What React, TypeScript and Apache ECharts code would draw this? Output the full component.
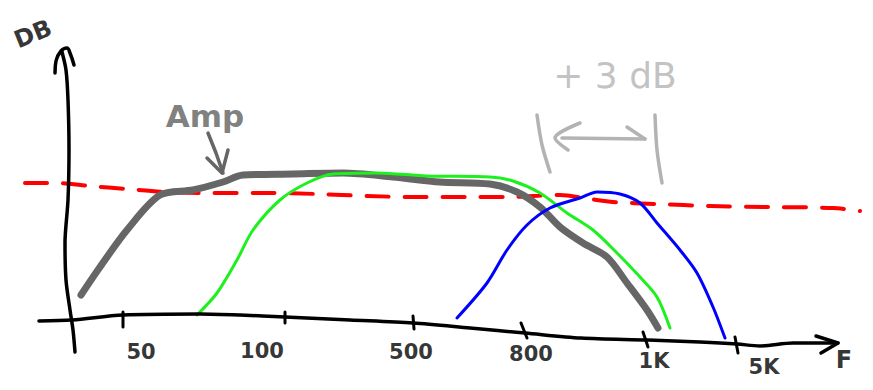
import React, { useEffect, useRef } from "react";
import * as echarts from "echarts";

const W = 873;
const H = 390;

// Hand-drawn axes (sketch coordinates: x = frequency position, y = level position, inverted)
const xAxisCurve = [[39, 321], [72, 320], [123, 315], [200, 314], [240, 315], [285, 317], [350, 320], [413, 323], [470, 328], [525, 333], [581, 338], [648, 340], [700, 342], [737, 344], [760, 346], [793, 343], [838, 343]];
const xAxisArrow = [[816, 336], [838, 343], [821, 353]];
const yAxisCurve = [[62, 52], [66, 70], [68, 100], [69, 150], [68, 200], [65, 243], [66, 280], [70, 310], [73, 330], [75, 352]];
const yAxisArrow = [[55, 73], [56, 61], [61, 51], [67, 48], [70, 53], [74, 65]];

// Frequency ticks
const tickLabels = ["50", "100", "500", "800", "1K", "5K"];
const tickXTop = [123, 285, 413, 521, 643, 735];
const tickXBottom = [123, 285, 414, 527, 648, 738];
const tickYTop = [312, 312, 316, 323, 332, 337];
const tickYBottom = [327, 323, 329, 338, 347, 353];
const labelX = [141, 262, 411, 531, 654, 764];
const labelY = [352, 351, 352, 354, 361, 367];

// Curves
const referenceLevel = [[25, 183], [55, 183], [90, 186], [127, 189], [165, 192], [200, 193], [267, 193], [317, 194], [367, 196], [413, 197], [467, 197], [507, 197], [560, 195], [590, 199], [613, 202], [657, 204], [710, 206], [770, 207], [833, 208], [860, 211]];
const ampCurve = [[81, 295], [100, 267], [127, 230], [160, 195], [193, 190], [223, 182], [243, 175], [293, 174], [343, 173], [393, 177], [440, 182], [490, 184], [517, 192], [540, 207], [560, 227], [583, 243], [607, 257], [627, 283], [647, 310], [658, 328]];
const greenCurve = [[197, 315], [217, 293], [237, 260], [253, 230], [280, 200], [307, 183], [333, 174], [377, 173], [427, 176], [490, 177], [513, 181], [540, 193], [567, 213], [593, 230], [617, 253], [640, 277], [657, 297], [670, 328]];
const blueCurve = [[457, 318], [487, 283], [507, 250], [527, 225], [550, 208], [580, 198], [597, 192], [620, 194], [640, 203], [657, 223], [680, 250], [697, 273], [713, 307], [725, 338]];

// Annotations
const ampArrow = [[[208, 133], [216, 153], [223, 173]], [[207, 158], [222, 173], [228, 150]]];
const plus3Marks = [
  [[537, 115], [542, 145], [550, 172]],
  [[655, 115], [657, 150], [662, 183]],
  [[562, 138], [645, 139]],
  [[580, 123], [555, 138], [568, 150]],
  [[627, 127], [645, 139]],
];
const annotationTexts = ["DB", "Amp", "+ 3 dB", "F"];
const annotationX = [33, 205, 615, 844];
const annotationY = [34, 116, 75, 360];

function stroke(data: number[][], color: string, width: number, smooth: number | boolean = 0.3, extra: any = {}) {
  return {
    type: "line",
    data,
    smooth,
    symbol: "none",
    silent: true,
    clip: false,
    lineStyle: { color, width, cap: "round", join: "round", ...extra },
  };
}

export default function App() {
  const ref = useRef<HTMLDivElement>(null);
  useEffect(() => {
    document.body.style.margin = "0";
    const chart = echarts.init(ref.current!, null, { renderer: "svg" });

    const tickSeries = tickLabels.map((_, i) =>
      stroke([[tickXTop[i], tickYTop[i]], [tickXBottom[i], tickYBottom[i]]], "#000", 3, false)
    );

    const textStyles = [
      { fontSize: 24, fontWeight: "bold", color: "#000", rotate: 22 },
      { fontSize: 31, fontWeight: "bold", color: "#5e5e5e" },
      { fontSize: 36, fontWeight: "normal", color: "#b3b3b3" },
      { fontSize: 24, fontWeight: "bold", color: "#000" },
    ];

    chart.setOption({
      animation: false,
      backgroundColor: "#fff",
      grid: { left: 0, top: 0, width: W, height: H, containLabel: false },
      xAxis: { type: "value", min: 0, max: W, show: false },
      yAxis: { type: "value", min: 0, max: H, inverse: true, show: false },
      series: [
        stroke(referenceLevel, "#ff0000", 4, 0.3, { type: [22, 16] }),
        stroke(ampCurve, "#666666", 7),
        stroke(greenCurve, "#1ef01e", 3),
        stroke(blueCurve, "#0000ff", 3),
        stroke(xAxisCurve, "#000", 3.5),
        stroke(xAxisArrow, "#000", 3.5, false),
        stroke(yAxisCurve, "#000", 3.5),
        stroke(yAxisArrow, "#000", 3.5, 0.4),
        ...tickSeries,
        ...ampArrow.map((d) => stroke(d, "#666666", 3.5, false)),
        ...plus3Marks.map((d) => stroke(d, "#b3b3b3", 3.5, 0.3)),
        {
          type: "scatter",
          silent: true,
          symbolSize: 0,
          clip: false,
          data: tickLabels.map((t, i) => ({
            name: t,
            value: [labelX[i], labelY[i]],
          })),
          label: {
            show: true,
            position: "inside",
            formatter: (p: any) => p.name,
            fontSize: 21,
            fontWeight: "bold",
            color: "#000",
            textBorderWidth: 0,
            fontFamily: "DejaVu Sans",
          },
        },
        {
          type: "scatter",
          silent: true,
          symbolSize: 0,
          clip: false,
          data: annotationTexts.map((t, i) => ({
            name: t,
            value: [annotationX[i], annotationY[i]],
            label: { ...textStyles[i] },
          })),
          label: {
            show: true,
            position: "inside",
            formatter: (p: any) => p.name,
            textBorderWidth: 0,
            fontFamily: "DejaVu Sans",
          },
        },
      ],
    });
    return () => chart.dispose();
  }, []);
  return <div ref={ref} style={{ position: "absolute", left: 0, top: 0, width: W, height: H }} />;
}
